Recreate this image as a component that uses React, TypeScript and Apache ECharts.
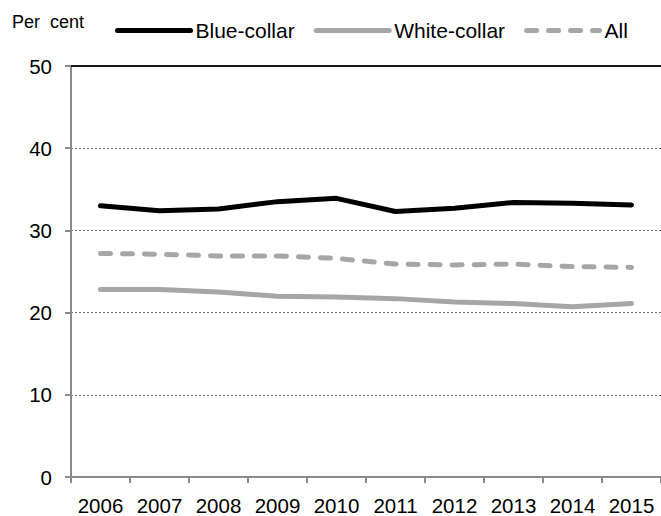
import React, { useEffect, useRef } from "react";
import * as echarts from "echarts";

// Share of employees (per cent), by occupational group
const years = ["2006", "2007", "2008", "2009", "2010", "2011", "2012", "2013", "2014", "2015"];
const blueCollar = [33.0, 32.4, 32.6, 33.5, 33.9, 32.3, 32.7, 33.4, 33.3, 33.1];
const whiteCollar = [22.8, 22.8, 22.5, 22.0, 21.9, 21.7, 21.3, 21.1, 20.7, 21.1];
const allEmployees = [27.2, 27.1, 26.9, 26.9, 26.6, 25.9, 25.8, 25.9, 25.6, 25.5];

const FONT = "'Liberation Sans', Arial, sans-serif";
const GREY = "#a6a6a6";
const AXIS = "#8a8a8a";

export default function App() {
  const ref = useRef<HTMLDivElement>(null);

  useEffect(() => {
    if (!ref.current) return;
    const chart = echarts.init(ref.current, null, { renderer: "svg" });
    chart.setOption({
      animation: false,
      backgroundColor: "#ffffff",
      textStyle: { fontFamily: FONT, color: "#000" },
      graphic: [
        {
          type: "text",
          left: 12,
          top: 13,
          style: { text: "Per  cent", font: `18px ${FONT}`, fill: "#000" },
        },
      ],
      legend: {
        left: 115,
        top: 20,
        padding: 0,
        itemWidth: 73,
        itemHeight: 22,
        itemGap: 19,
        itemStyle: { color: "rgba(0,0,0,0)", borderColor: "rgba(0,0,0,0)", borderWidth: 0, opacity: 0 },
        lineStyle: { width: 5, cap: "round" },
        textStyle: { fontFamily: FONT, fontSize: 21, color: "#000" },
        data: ["Blue-collar", "White-collar", "All"],
      },
      grid: { left: 71, right: 0, top: 66, bottom: 34, containLabel: false },
      xAxis: [
        {
          type: "category",
          data: years,
          boundaryGap: true,
          axisLine: { lineStyle: { color: AXIS, width: 2 } },
          axisTick: { show: true, interval: 0, length: 6, lineStyle: { color: AXIS, width: 2 } },
          axisLabel: { interval: 0, margin: 18, fontFamily: FONT, fontSize: 20.5, color: "#000" },
          splitLine: { show: false },
        },
        {
          type: "category",
          data: years,
          position: "top",
          axisLine: { show: true, lineStyle: { color: "#1a1a1a", width: 2 } },
          axisTick: { show: false },
          axisLabel: { show: false },
          splitLine: { show: false },
        },
      ],
      yAxis: {
        type: "value",
        min: 0,
        max: 50,
        interval: 10,
        axisLine: { show: true, lineStyle: { color: AXIS, width: 2 } },
        axisTick: { show: true, length: 6, lineStyle: { color: AXIS, width: 2 } },
        axisLabel: { margin: 19, fontFamily: FONT, fontSize: 20.5, color: "#000" },
        splitLine: { show: true, lineStyle: { color: "#6f6f6f", width: 1, type: [2, 2] } },
      },
      series: [
        {
          name: "Blue-collar",
          type: "line",
          data: blueCollar,
          symbol: "none",
          color: "#000000",
          lineStyle: { color: "#000000", width: 5, cap: "round", join: "round" },
        },
        {
          name: "White-collar",
          type: "line",
          data: whiteCollar,
          symbol: "none",
          color: GREY,
          lineStyle: { color: GREY, width: 5, cap: "round", join: "round" },
        },
        {
          name: "All",
          type: "line",
          data: allEmployees,
          symbol: "none",
          color: GREY,
          lineStyle: { color: GREY, width: 5, type: [10, 12], cap: "round", join: "round" },
        },
      ],
    });
    return () => chart.dispose();
  }, []);

  return (
    <div
      ref={ref}
      style={{ position: "fixed", left: 0, top: 0, width: 661, height: 516 }}
    />
  );
}
